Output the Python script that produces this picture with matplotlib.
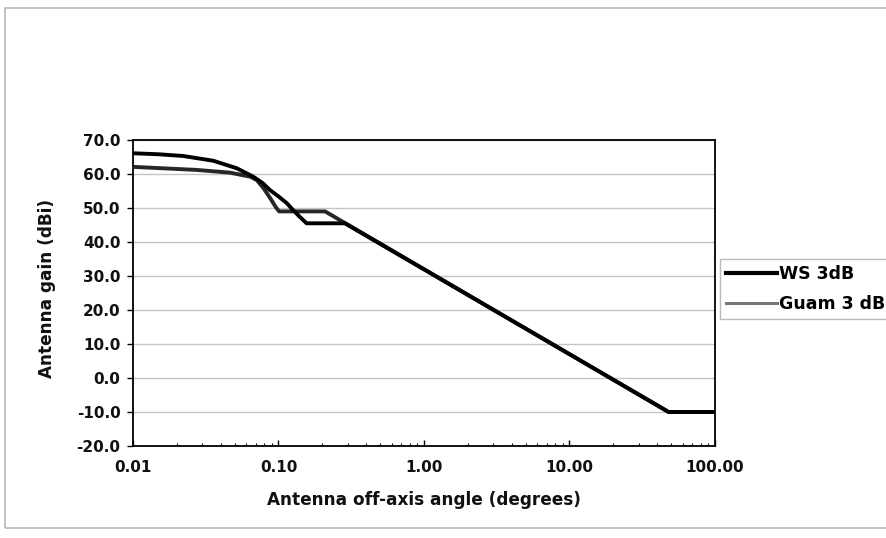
import matplotlib
matplotlib.use("Agg")
import matplotlib.pyplot as plt
from matplotlib.lines import Line2D
from matplotlib.patches import Rectangle

# ---- data ----
ws_angle = [0.01, 0.015, 0.0221, 0.0356, 0.0516, 0.0671, 0.078, 0.0872, 0.100, 0.1135,
            0.126, 0.140, 0.156, 0.286, 48.0, 100.0]
ws_gain = [66.1, 65.8, 65.3, 63.9, 61.7, 59.2, 57.3, 55.3, 53.4, 51.5,
           49.4, 47.4, 45.5, 45.5, -10.0, -10.0]

guam_angle = [0.01, 0.0274, 0.0464, 0.064, 0.071, 0.079, 0.088, 0.096, 0.101, 0.209, 48.0, 100.0]
guam_gain = [62.1, 61.2, 60.4, 59.2, 58.2, 55.8, 52.8, 50.2, 49.0, 49.0, -10.0, -10.0]

x_ticks = [0.01, 0.1, 1, 10, 100]
x_tick_labels = ["0.01", "0.10", "1.00", "10.00", "100.00"]
y_ticks = [-20, -10, 0, 10, 20, 30, 40, 50, 60, 70]
y_tick_labels = ["-20.0", "-10.0", "0.0", "10.0", "20.0", "30.0", "40.0", "50.0", "60.0", "70.0"]
series_names = ["WS 3dB", "Guam 3 dB"]

W, H = 887, 538
fig = plt.figure(figsize=(W / 100, H / 100), dpi=100)
fig.patch.set_facecolor("white")

# outer chart-area border
fig.patches.append(Rectangle((5 / W, 1 - 528 / H), 1.0, (528 - 8) / H,
                             transform=fig.transFigure, fill=False,
                             edgecolor="#b8b8b8", linewidth=1.2))

L, R, T, B = 133, 715, 140, 446
ax = fig.add_axes([L / W, 1 - B / H, (R - L) / W, (B - T) / H])

ax.plot(guam_angle, guam_gain, color="#262626", lw=2.8, solid_joinstyle="round", zorder=3)
ax.plot(ws_angle, ws_gain, color="black", lw=2.8, solid_joinstyle="round", zorder=4)

ax.set_xscale("log")
ax.set_xlim(0.01, 100)
ax.set_ylim(-20, 70)
ax.set_xticks(x_ticks)
ax.set_xticklabels(x_tick_labels)
ax.set_yticks(y_ticks)
ax.set_yticklabels(y_tick_labels)

ax.yaxis.grid(True, color="#c4c4c4", lw=1.0)
ax.set_axisbelow(True)

for s in ax.spines.values():
    s.set_color("black")
    s.set_linewidth(1.3)

fp = dict(family="DejaVu Sans", weight="bold")
ax.tick_params(axis="x", which="major", direction="in", length=4, width=1, pad=10,
               labelsize=11)
ax.tick_params(axis="x", which="minor", direction="in", length=2.5, width=0.8)
ax.tick_params(axis="y", which="major", direction="out", length=4, width=1, pad=5,
               labelsize=11)
for lab in ax.get_xticklabels() + ax.get_yticklabels():
    lab.set_fontweight("bold")
    lab.set_family("DejaVu Sans")
    lab.set_color("#111111")

fig.text((L + R) / 2 / W, 1 - 500 / H, "Antenna off-axis angle (degrees)",
         ha="center", va="center", fontsize=12.2, color="#111111", **fp)
fig.text(47 / W, 1 - 288 / H, "Antenna gain (dBi)", rotation=90,
         ha="center", va="center", fontsize=12.2, color="#111111", **fp)

handles = [Line2D([], [], color="black", lw=3.0),
           Line2D([], [], color="#777777", lw=2.2)]
leg = fig.legend(handles, series_names, loc="upper left",
                 bbox_to_anchor=(720 / W, 1 - 259 / H), frameon=True,
                 fancybox=False, handlelength=2.95, handletextpad=0.1,
                 borderpad=0.35, labelspacing=0.7, borderaxespad=0,
                 prop=dict(family="DejaVu Sans", weight="bold", size=12.5))
leg.get_frame().set_edgecolor("#aaaaaa")
leg.get_frame().set_linewidth(1.0)

fig.savefig("out.png", dpi=100, facecolor="white")
